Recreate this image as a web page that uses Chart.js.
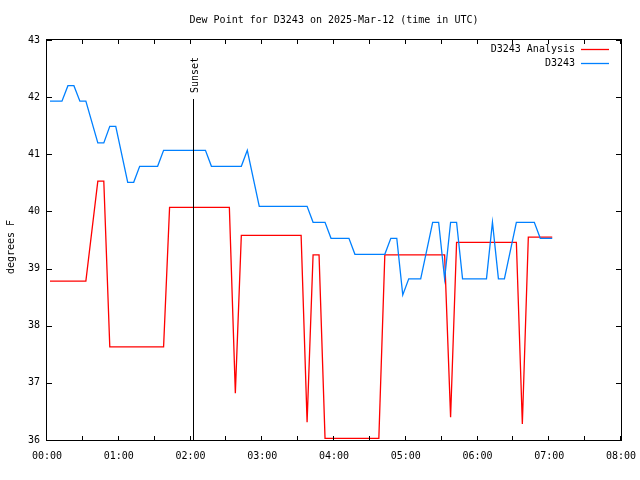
<!DOCTYPE html>
<html>
<head>
<meta charset="utf-8">
<title>Dew Point for D3243</title>
<script src="https://cdn.jsdelivr.net/npm/chart.js@4.4.1/dist/chart.umd.min.js"></script>
<style>
  html, body { margin: 0; padding: 0; background: #fff; }
  #dewChart { display: block; }
</style>
</head>
<body>
<canvas id="dewChart" width="640" height="480"></canvas>
<script>
// times are minutes after 00:00 UTC, values in degrees F
const analysisTimes = [2.5, 32.5, 42.5, 47.5, 52.5, 97.5, 102.5, 152.5, 157.5, 162.5, 212.5, 217.5,
    222.5, 227.5, 232.5, 277.5, 282.5, 332.5, 337.5, 342.5, 392.5, 397.5, 402.5, 422.5];
const analysisValues = [38.78, 38.78, 40.53, 40.53, 37.63, 37.63, 40.07, 40.07, 36.82, 39.58, 39.58, 36.31,
    39.24, 39.24, 36.03, 36.03, 39.24, 39.24, 36.40, 39.46, 39.46, 36.28, 39.55, 39.55];

const obsTimes = [2.5, 12.5, 17.5, 22.5, 27.5, 32.5, 42.5, 47.5, 52.5, 57.5, 67.5, 72.5, 77.5, 92.5,
    97.5, 132.5, 137.5, 162.5, 167.5, 177.5, 217.5, 222.5, 232.5, 237.5, 252.5, 257.5, 282.5, 287.5,
    292.5, 297.5, 302.5, 312.5, 322.5, 327.5, 332.5, 337.5, 342.5, 347.5, 367.5, 372.5, 377.5, 382.5,
    392.5, 407.5, 412.5, 422.5];
const obsValues = [41.93, 41.93, 42.20, 42.20, 41.93, 41.93, 41.20, 41.20, 41.49, 41.49, 40.51, 40.51,
    40.79, 40.79, 41.07, 41.07, 40.79, 40.79, 41.07, 40.09, 40.09, 39.81, 39.81, 39.53, 39.53, 39.25,
    39.25, 39.53, 39.53, 38.54, 38.82, 38.82, 39.81, 39.81, 38.82, 39.81, 39.81, 38.82, 38.82, 39.81,
    38.82, 38.82, 39.81, 39.81, 39.53, 39.53];

const xTickLabels = ['00:00', '01:00', '02:00', '03:00', '04:00', '05:00', '06:00', '07:00', '08:00'];
const sunsetMinute = 122;

const FONT = '"DejaVu Sans Mono", "Liberation Mono", monospace';

function toPoints(times, values) {
    return times.map((t, i) => ({ x: t, y: values[i] }));
}

// box, inward ticks, sunset marker, title and legend (gnuplot look)
const gnuplotFrame = {
    id: 'gnuplotFrame',
    afterDatasetsDraw(chart) {
        const { ctx, chartArea: a, scales: { x, y } } = chart;
        ctx.save();
        ctx.strokeStyle = '#000';
        ctx.lineWidth = 1;
        ctx.strokeRect(a.left - 0.5, a.top - 0.5, a.right - a.left + 1, a.bottom - a.top + 1);

        ctx.beginPath();
        for (let m = 0; m <= 480; m += 30) {
            const px = Math.round(x.getPixelForValue(m)) - 0.5;
            ctx.moveTo(px, a.bottom);
            ctx.lineTo(px, a.bottom - 4);
            ctx.moveTo(px, a.top);
            ctx.lineTo(px, a.top + 4);
        }
        for (let v = 36; v <= 43; v++) {
            const py = Math.round(y.getPixelForValue(v)) + 0.5;
            ctx.moveTo(a.left, py);
            ctx.lineTo(a.left + 5, py);
            ctx.moveTo(a.right, py);
            ctx.lineTo(a.right - 5, py);
        }
        ctx.stroke();

        // sunset
        const sx = Math.round(x.getPixelForValue(sunsetMinute)) + 0.5;
        ctx.beginPath();
        ctx.moveTo(sx, a.top + 59);
        ctx.lineTo(sx, a.bottom);
        ctx.stroke();
        ctx.fillStyle = '#000';
        ctx.font = '10px ' + FONT;
        ctx.save();
        ctx.translate(sx + 1.5, a.top + 53);
        ctx.rotate(-Math.PI / 2);
        ctx.textAlign = 'left';
        ctx.textBaseline = 'middle';
        ctx.fillText('Sunset', 0, 0);
        ctx.restore();

        // title
        ctx.textAlign = 'center';
        ctx.textBaseline = 'middle';
        ctx.fillText('Dew Point for D3243 on 2025-Mar-12 (time in UTC)', (a.left + a.right) / 2, 20);

        // y axis title
        ctx.save();
        ctx.translate(11, 247);
        ctx.rotate(-Math.PI / 2);
        ctx.fillText('degrees F', 0, 0);
        ctx.restore();

        // legend
        chart.data.datasets.forEach((ds, i) => {
            const ly = a.top + 9 + i * 14;
            ctx.textAlign = 'right';
            ctx.fillStyle = '#000';
            ctx.fillText(ds.label, a.right - 46, ly);
            ctx.strokeStyle = ds.borderColor;
            ctx.lineWidth = 1.3;
            ctx.beginPath();
            ctx.moveTo(a.right - 40, ly + 0.5);
            ctx.lineTo(a.right - 12, ly + 0.5);
            ctx.stroke();
        });
        ctx.restore();
    }
};

const whiteBg = {
    id: 'whiteBg',
    beforeDraw(chart) {
        const ctx = chart.ctx;
        ctx.save();
        ctx.fillStyle = '#fff';
        ctx.fillRect(0, 0, chart.width, chart.height);
        ctx.restore();
    }
};

Chart.defaults.font.family = FONT;
Chart.defaults.font.size = 10;
Chart.defaults.color = '#000';

new Chart(document.getElementById('dewChart'), {
    type: 'line',
    data: {
        datasets: [
            {
                label: 'D3243 Analysis',
                data: toPoints(analysisTimes, analysisValues),
                borderColor: '#ff0000',
                borderWidth: 1.3,
                pointRadius: 0,
                tension: 0,
                order: 2
            },
            {
                label: 'D3243',
                data: toPoints(obsTimes, obsValues),
                borderColor: '#0080ff',
                borderWidth: 1.3,
                pointRadius: 0,
                tension: 0,
                order: 1
            }
        ]
    },
    options: {
        responsive: false,
        animation: false,
        layout: { padding: { top: 40, right: 19, left: 0, bottom: 0 } },
        plugins: {
            legend: { display: false },
            title: { display: false },
            tooltip: { enabled: false }
        },
        scales: {
            x: {
                type: 'linear',
                min: 0,
                max: 480,
                grid: { display: false, drawTicks: false },
                border: { display: false },
                ticks: {
                    stepSize: 60,
                    padding: 10,
                    maxRotation: 0,
                    callback: (v) => xTickLabels[v / 60]
                },
                afterFit: (s) => {
                    s.height = 40;
                    s.paddingLeft = 0;
                    s.paddingRight = 0;
                }
            },
            y: {
                min: 36,
                max: 43,
                grid: { display: false, drawTicks: false },
                border: { display: false },
                ticks: { stepSize: 1, padding: 7 },
                afterFit: (s) => {
                    s.width = 47;
                    s.paddingTop = 0;
                    s.paddingBottom = 0;
                }
            }
        }
    },
    plugins: [whiteBg, gnuplotFrame]
});
</script>
</body>
</html>
